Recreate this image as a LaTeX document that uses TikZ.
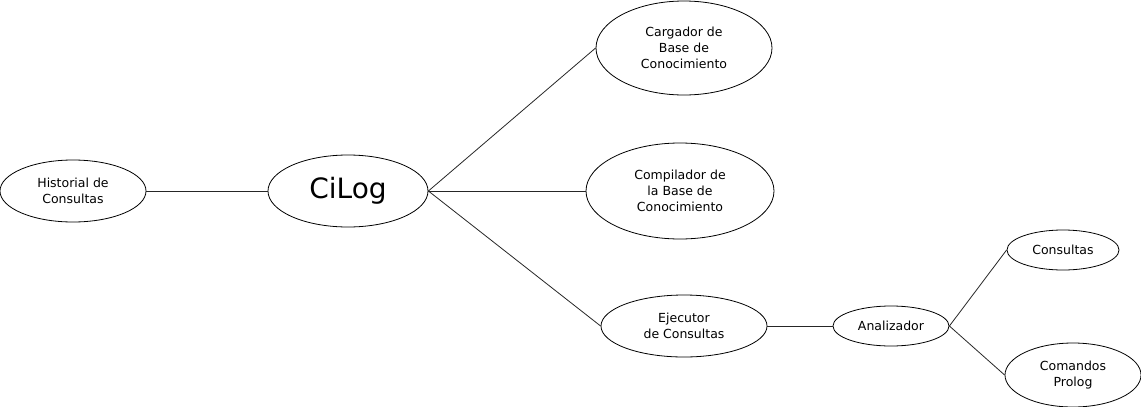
\documentclass[tikz,border=0pt]{standalone}
\usepackage{fontspec}
\setmainfont{DejaVu Sans}
\usetikzlibrary{shapes.geometric}

\begin{document}
\begin{tikzpicture}[x=1pt, y=-1pt,
    modulo/.style={ellipse, draw, line width=0.8pt, inner sep=0pt, align=center,
                   font=\fontsize{12.5}{16}\selectfont},
    enlace/.style={line width=0.8pt, black!85}]
    \useasboundingbox (0,0) rectangle (1141,407);
    \node[modulo, minimum width=146, minimum height=62] (historial) at (73,191) {Historial de\\Consultas};
    \node[modulo, minimum width=160, minimum height=72, font=\fontsize{28}{32}\selectfont] (cilog) at (348,191) {CiLog};
    \node[modulo, minimum width=176, minimum height=94] (cargador) at (684,48) {Cargador de\\Base de\\Conocimiento};
    \node[modulo, minimum width=188, minimum height=96] (compilador) at (680,191) {Compilador de\\la Base de\\Conocimiento};
    \node[modulo, minimum width=166, minimum height=62] (ejecutor) at (684,326) {Ejecutor\\de Consultas};
    \node[modulo, minimum width=116, minimum height=40] (analizador) at (891,326) {Analizador};
    \node[modulo, minimum width=112, minimum height=40] (consultas) at (1063,250) {Consultas};
    \node[modulo, minimum width=136, minimum height=64] (comandos) at (1073,375) {Comandos\\Prolog};
    \draw[enlace] (historial) -- (cilog);
    \draw[enlace] (cilog.east) -- (cargador.west);
    \draw[enlace] (cilog.east) -- (compilador.west);
    \draw[enlace] (cilog.east) -- (ejecutor.west);
    \draw[enlace] (ejecutor) -- (analizador);
    \draw[enlace] (analizador.east) -- (consultas.west);
    \draw[enlace] (analizador.east) -- (comandos.west);
\end{tikzpicture}
\end{document}
